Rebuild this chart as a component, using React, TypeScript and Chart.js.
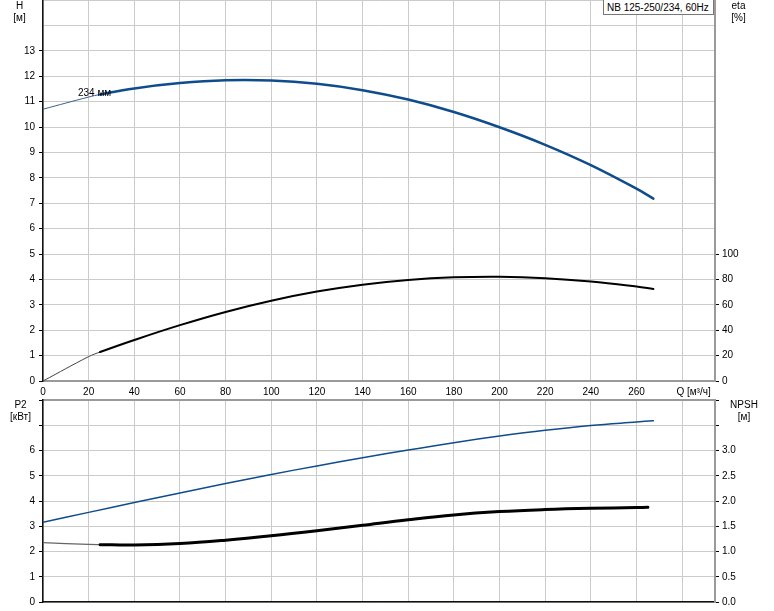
import React, { useEffect, useRef } from 'react';
import { Chart, registerables } from 'chart.js';

Chart.register(...registerables);

const FONT = '"Liberation Sans", Arial, Helvetica, sans-serif';
const GRID = '#cbcbcb';
const AXIS_GRAY = '#9a9a9a';
const BLUE = '#0f4c8c';

// ---- data ----
const flowTicks = [0, 20, 40, 60, 80, 100, 120, 140, 160, 180, 200, 220, 240, 260, 280];
const qAxisLabel = 'Q [м³/ч]';
const qLabelPos = 285;
const qMax = 294.4;
const thinUntil = 25;

const qHead = [0, 20, 25, 40, 60, 80, 100, 120, 140, 160, 180, 200, 220, 240, 260, 267.4];
const head = [10.7, 11.18, 11.28, 11.52, 11.73, 11.84, 11.83, 11.7, 11.45, 11.08, 10.59, 9.99, 9.3, 8.5, 7.57, 7.18];

const qEta = [0, 20, 25, 40, 60, 80, 100, 120, 140, 160, 180, 200, 220, 240, 260, 267.4];
const eta = [0, 19.2, 22.8, 32.3, 44.0, 54.4, 63.2, 70.4, 75.8, 79.5, 81.6, 82.1, 81.0, 78.4, 74.4, 72.5];

const qP2 = [0, 20, 40, 60, 80, 100, 120, 140, 160, 180, 200, 220, 240, 260, 267.4];
const p2 = [3.16, 3.55, 3.94, 4.32, 4.69, 5.05, 5.39, 5.71, 6.02, 6.31, 6.57, 6.8, 6.99, 7.13, 7.18];

const qNpsh = [0, 20, 25, 40, 60, 80, 100, 120, 140, 160, 180, 200, 220, 240, 260, 265];
const npsh = [1.175, 1.14, 1.136, 1.13, 1.16, 1.225, 1.31, 1.41, 1.52, 1.63, 1.725, 1.79, 1.83, 1.855, 1.87, 1.875];

const headTicksMaxLabel = 13;
const etaTicksMaxLabel = 100;
const p2TicksMaxLabel = 6;
const npshTicksMaxLabel = 3;

const pumpTitle = 'NB 125-250/234, 60Hz';
const curveLabel = '234 мм';

// ---- helpers ----
const pts = (qs: number[], vs: number[]) => qs.map((q, i) => ({ x: q, y: vs[i] }));

const tickFont = { size: 10, family: FONT };

const curve = (
  data: any[],
  axis: string,
  thickColor: string,
  thickWidth: number,
  thinColor: string,
  thinWidth: number
) => ({
  data,
  borderColor: thickColor,
  borderWidth: thickWidth,
  pointRadius: 0,
  fill: false,
  yAxisID: axis,
  tension: 0.4,
  borderCapStyle: 'round',
  borderJoinStyle: 'round',
  segment: {
    borderWidth: (c: any) => (c.p0.parsed.x < thinUntil ? thinWidth : thickWidth),
    borderColor: (c: any) => (c.p0.parsed.x < thinUntil ? thinColor : thickColor),
  },
});

function topConfig(): any {
  return {
    type: 'line',
    data: {
      datasets: [
        curve(pts(qHead, head), 'y', BLUE, 2.5, '#3a5f8c', 1),
        curve(pts(qEta, eta), 'eta', '#000', 2, '#444', 1),
      ],
    },
    options: {
      responsive: false,
      animation: false,
      layout: { padding: 0 },
      plugins: { legend: { display: false }, tooltip: { enabled: false } },
      scales: {
        x: {
          type: 'linear',
          min: 0,
          max: qMax,
          position: 'bottom',
          afterBuildTicks: (s: any) => {
            s.ticks = [...flowTicks, qLabelPos].map((v) => ({ value: v }));
          },
          afterFit: (s: any) => {
            s.height = 19;
            s.paddingLeft = 0;
            s.paddingRight = 0;
          },
          ticks: {
            autoSkip: false,
            maxRotation: 0,
            padding: 5,
            color: '#000',
            font: tickFont,
            callback: (v: number) => (v === qLabelPos ? qAxisLabel : v === 280 ? '' : String(v)),
          },
          grid: {
            color: (c: any) => (c.tick && c.tick.value === qLabelPos ? 'rgba(0,0,0,0)' : GRID),
            lineWidth: 1,
            drawTicks: false,
          },
          border: { color: AXIS_GRAY, width: 2 },
        },
        y: {
          type: 'linear',
          position: 'left',
          min: 0,
          max: 15,
          afterFit: (s: any) => {
            s.width = 43;
            s.paddingTop = 0;
            s.paddingBottom = 0;
          },
          ticks: {
            stepSize: 1,
            padding: 4,
            color: '#000',
            font: tickFont,
            callback: (v: number) => (v <= headTicksMaxLabel ? String(v) : ''),
          },
          grid: {
            color: GRID,
            lineWidth: 1,
            tickLength: 4,
            tickColor: (c: any) => (c.tick && c.tick.value <= headTicksMaxLabel ? '#000' : 'rgba(0,0,0,0)'),
          },
          border: { color: '#111', width: 1.5 },
        },
        eta: {
          type: 'linear',
          position: 'right',
          min: 0,
          max: 300,
          afterFit: (s: any) => {
            s.width = 59;
            s.paddingTop = 0;
            s.paddingBottom = 0;
          },
          ticks: {
            stepSize: 20,
            padding: 3,
            color: '#000',
            font: tickFont,
            callback: (v: number) => (v <= etaTicksMaxLabel ? String(v) : ''),
          },
          grid: {
            drawOnChartArea: false,
            tickLength: 4,
            tickColor: (c: any) => (c.tick && c.tick.value <= etaTicksMaxLabel ? '#000' : 'rgba(0,0,0,0)'),
          },
          border: { color: AXIS_GRAY, width: 2 },
        },
      },
    },
  };
}

function bottomConfig(): any {
  return {
    type: 'line',
    data: {
      datasets: [
        curve(pts(qP2, p2), 'p2', BLUE, 1.5, BLUE, 1.5),
        curve(pts(qNpsh, npsh), 'npsh', '#000', 3, '#666', 1.3),
      ],
    },
    options: {
      responsive: false,
      animation: false,
      layout: { padding: { top: 8, left: 0, right: 0, bottom: 0 } },
      plugins: { legend: { display: false }, tooltip: { enabled: false } },
      scales: {
        x: {
          type: 'linear',
          min: 0,
          max: qMax,
          position: 'bottom',
          afterFit: (s: any) => {
            s.height = 9;
            s.paddingLeft = 0;
            s.paddingRight = 0;
          },
          ticks: { stepSize: 20, includeBounds: false, display: false },
          grid: { color: GRID, lineWidth: 1, drawTicks: false },
          border: { color: '#111', width: 1.5 },
        },
        xTop: {
          type: 'linear',
          min: 0,
          max: qMax,
          position: 'top',
          afterFit: (s: any) => {
            s.height = 0;
            s.paddingLeft = 0;
            s.paddingRight = 0;
          },
          ticks: { display: false, stepSize: 20, includeBounds: false },
          grid: { drawOnChartArea: false, drawTicks: false },
          border: { color: AXIS_GRAY, width: 2 },
        },
        p2: {
          type: 'linear',
          position: 'left',
          min: 0,
          max: 8,
          afterFit: (s: any) => {
            s.width = 43;
            s.paddingTop = 0;
            s.paddingBottom = 0;
          },
          ticks: {
            stepSize: 1,
            padding: 4,
            color: '#000',
            font: tickFont,
            callback: (v: number) => (v <= p2TicksMaxLabel ? String(v) : ''),
          },
          grid: { color: GRID, lineWidth: 1, tickLength: 4, tickColor: '#000' },
          border: { color: '#111', width: 1.5 },
        },
        npsh: {
          type: 'linear',
          position: 'right',
          min: 0,
          max: 4,
          afterFit: (s: any) => {
            s.width = 59;
            s.paddingTop = 0;
            s.paddingBottom = 0;
          },
          ticks: {
            stepSize: 0.5,
            padding: 3,
            color: '#000',
            font: tickFont,
            callback: (v: number) => (v <= npshTicksMaxLabel ? v.toFixed(1) : ''),
          },
          grid: { drawOnChartArea: false, tickLength: 4, tickColor: '#000' },
          border: { color: AXIS_GRAY, width: 2 },
        },
      },
    },
  };
}

function ChartCanvas({ make, top, height }: { make: () => any; top: number; height: number }) {
  const ref = useRef<HTMLCanvasElement>(null);
  useEffect(() => {
    const chart = new Chart(ref.current as HTMLCanvasElement, make());
    return () => chart.destroy();
  }, []);
  return (
    <canvas
      ref={ref}
      width={774}
      height={height}
      style={{ position: 'absolute', left: 0, top, width: 774, height, display: 'block' }}
    />
  );
}

function Title({ cx, top, lines }: { cx: number; top: number; lines: string[] }) {
  return (
    <div
      style={{
        position: 'absolute',
        left: cx - 30,
        top,
        width: 60,
        textAlign: 'center',
        font: `10px ${FONT}`,
        lineHeight: '12px',
        color: '#000',
        zIndex: 2,
      }}
    >
      {lines.map((l, i) => (
        <div key={i}>{l}</div>
      ))}
    </div>
  );
}

export default function App() {
  return (
    <div
      style={{
        position: 'absolute',
        left: 0,
        top: 0,
        width: 774,
        height: 611,
        background: '#fff',
        overflow: 'hidden',
      }}
    >
      <ChartCanvas make={topConfig} top={0} height={400} />
      <ChartCanvas make={bottomConfig} top={392} height={219} />
      <Title cx={19.5} top={0} lines={['H', '[м]']} />
      <Title cx={738.5} top={0} lines={['eta', '[%]']} />
      <Title cx={20.5} top={399} lines={['P2', '[кВт]']} />
      <Title cx={744} top={399} lines={['NPSH', '[м]']} />
      <div
        style={{
          position: 'absolute',
          left: 603,
          top: -1,
          width: 111,
          height: 16,
          border: '1px solid #777',
          background: '#fff',
          font: `10px ${FONT}`,
          lineHeight: '16px',
          paddingLeft: 3,
          boxSizing: 'border-box',
          whiteSpace: 'nowrap',
          color: '#000',
          zIndex: 2,
        }}
      >
        {pumpTitle}
      </div>
      <div
        style={{
          position: 'absolute',
          left: 78,
          top: 87,
          font: `10px ${FONT}`,
          lineHeight: '12px',
          color: '#000',
          zIndex: 2,
          whiteSpace: 'nowrap',
        }}
      >
        {curveLabel}
      </div>
    </div>
  );
}
